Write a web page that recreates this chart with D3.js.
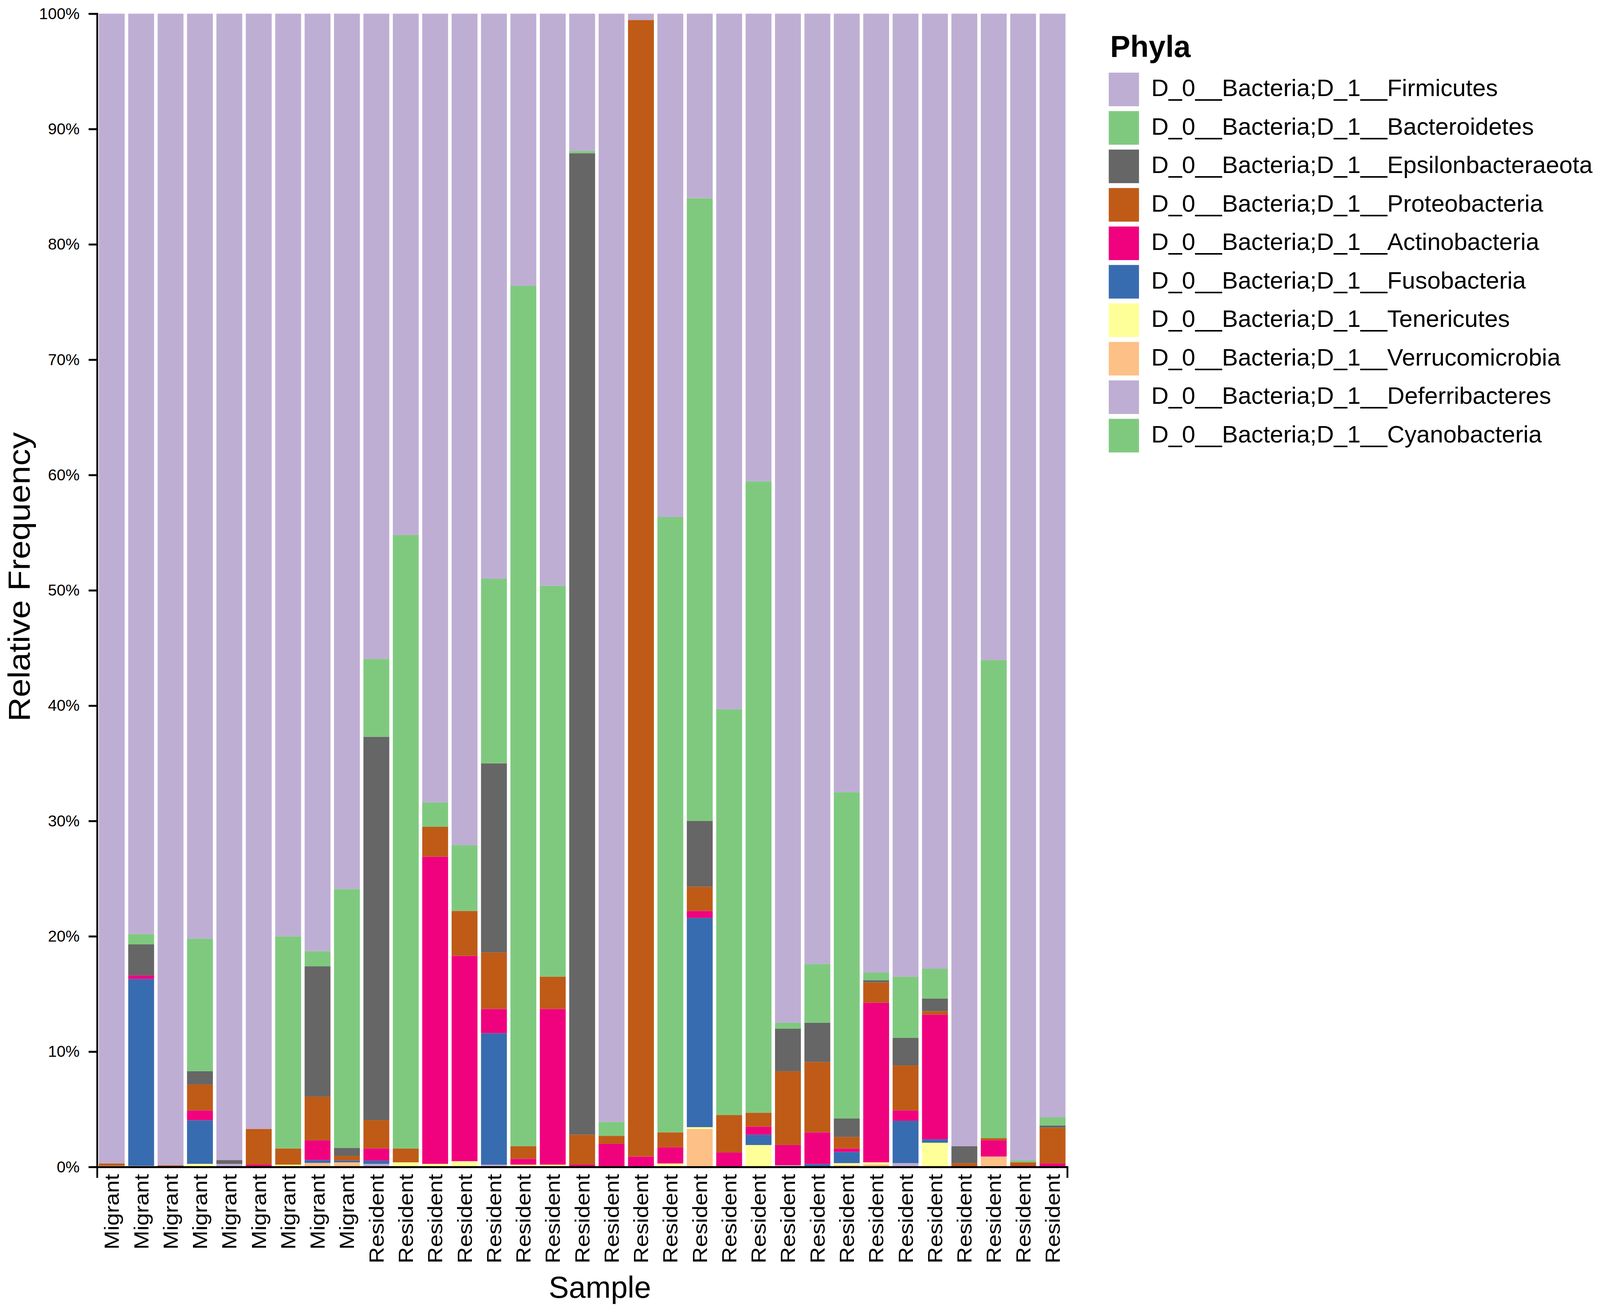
<!DOCTYPE html>
<html>
<head>
<meta charset="utf-8">
<script src="https://cdn.jsdelivr.net/npm/d3@7"></script>
<style>
  html, body { margin: 0; padding: 0; background: #fff; overflow: hidden; }
  #chart svg { display: block; width: 100vw; height: 100vh; }
  text { font-family: "Liberation Sans", Arial, Helvetica, sans-serif; }
</style>
</head>
<body>
<div id="chart"></div>
<script>
const W = 4550, H = 3362;

// sample groups, left to right
const samples = ["Migrant","Migrant","Migrant","Migrant","Migrant","Migrant","Migrant","Migrant","Migrant",
  "Resident","Resident","Resident","Resident","Resident","Resident","Resident","Resident","Resident",
  "Resident","Resident","Resident","Resident","Resident","Resident","Resident","Resident","Resident",
  "Resident","Resident","Resident","Resident","Resident","Resident"];

// phyla, legend order (top of the stack first)
const phyla = ["D_0__Bacteria;D_1__Firmicutes","D_0__Bacteria;D_1__Bacteroidetes",
  "D_0__Bacteria;D_1__Epsilonbacteraeota","D_0__Bacteria;D_1__Proteobacteria",
  "D_0__Bacteria;D_1__Actinobacteria","D_0__Bacteria;D_1__Fusobacteria",
  "D_0__Bacteria;D_1__Tenericutes","D_0__Bacteria;D_1__Verrucomicrobia",
  "D_0__Bacteria;D_1__Deferribacteres","D_0__Bacteria;D_1__Cyanobacteria"];
const phylaColors = ["#beaed4","#7fc97f","#666666","#bf5b17","#f0027f","#386cb0","#ffff99","#fdc086","#beaed4","#7fc97f"];

// relative frequency (%) per sample
const firmicutes = [99.7,79.8,99.85,80.2,99.4,96.7,80.0,81.3,75.9,55.95,45.2,68.4,72.1,49.0,23.6,49.6,11.9,96.1,0.55,43.65,16.0,60.3,40.55,87.5,82.4,67.5,83.14,83.5,82.8,98.2,56.05,99.42,95.7];
const bacteroidetes = [0,0.9,0,11.5,0,0,18.4,1.3,22.45,6.75,53.2,2.1,5.7,16.0,74.6,33.9,0.2,1.2,0,53.35,54.0,35.2,54.75,0.5,5.1,28.3,0.66,5.3,2.6,0,41.45,0.18,0.7];
const epsilonbacteraeota = [0,2.7,0,1.15,0.33,0,0,11.3,0.7,33.24,0,0,0,16.4,0,0,85.1,0,0,0,5.7,0,0,3.7,3.4,1.6,0.2,2.4,1.1,1.47,0,0,0.2];
const proteobacteria = [0.2,0,0.15,2.25,0,3.1,1.4,3.8,0.4,2.46,1.2,2.6,3.9,4.9,1.1,2.8,2.6,0.7,98.55,1.3,2.1,3.25,1.2,6.4,6.1,1.0,1.77,3.9,0.3,0.33,0.2,0.3,3.1];
const actinobacteria = [0,0.3,0,0.85,0,0.2,0,1.7,0,1.05,0,26.63,17.8,2.1,0.5,13.5,0.2,2.0,0.9,1.4,0.6,1.25,0.7,1.75,2.75,0.3,13.83,0.9,10.8,0,1.4,0.1,0.3];
const fusobacteria = [0,16.2,0,3.78,0,0,0,0.25,0.15,0.28,0,0,0,11.4,0,0,0,0,0,0,18.15,0,0.9,0,0.25,0.97,0,3.67,0.3,0,0,0,0];
const tenericutes = [0,0,0,0.27,0,0,0.2,0,0,0,0.4,0.27,0.5,0,0.2,0.2,0,0,0,0.3,0.15,0,1.9,0,0,0.18,0.2,0,2.1,0,0,0,0];
const verrucomicrobia = [0.1,0,0,0,0,0,0,0.35,0.4,0,0,0,0,0,0,0,0,0,0,0,3.3,0,0,0,0,0.15,0.2,0,0,0,0.9,0,0];
const deferribacteres = [0,0.1,0,0,0.27,0,0,0,0,0.27,0,0,0,0.2,0,0,0,0,0,0,0,0,0,0.15,0,0,0,0.33,0,0,0,0,0];
const cyanobacteria = [0,0,0,0,0,0,0,0,0,0,0,0,0,0,0,0,0,0,0,0,0,0,0,0,0,0,0,0,0,0,0,0,0];

const yTicks = [0,10,20,30,40,50,60,70,80,90,100];

const seriesValues = [firmicutes, bacteroidetes, epsilonbacteraeota, proteobacteria, actinobacteria,
  fusobacteria, tenericutes, verrucomicrobia, deferribacteres, cyanobacteria];

// table for d3.stack
const rows = samples.map(function(s, i) {
  const r = { idx: i, sample: s };
  phyla.forEach(function(p, k) { r[p] = seriesValues[k][i]; });
  return r;
});

const margin = { left: 276, right: 1515, top: 35, bottom: 374 };
const plotW = W - margin.left - margin.right;
const plotH = H - margin.top - margin.bottom;

// viewBox stretched to the viewport, so the layout fills the page
const svg = d3.select("#chart").append("svg")
  .attr("viewBox", "0 0 " + W + " " + H)
  .attr("preserveAspectRatio", "none")
  .style("background", "#fff");

const g = svg.append("g").attr("transform", "translate(" + margin.left + "," + margin.top + ")");

const x = d3.scaleBand()
  .domain(d3.range(samples.length))
  .range([0, plotW])
  .paddingInner(0.12)
  .paddingOuter(0.06);

const y = d3.scaleLinear().domain([0, 100]).range([plotH, 0]);

const color = d3.scaleOrdinal().domain(phyla).range(phylaColors);

// stack bottom -> top is reverse legend order
const stack = d3.stack().keys(phyla.slice().reverse());
const layers = stack(rows);

g.selectAll("g.layer")
  .data(layers)
  .enter().append("g")
  .attr("class", "layer")
  .attr("fill", function(d) { return color(d.key); })
  .selectAll("rect")
  .data(function(d) { return d; })
  .enter().append("rect")
  .attr("x", function(d) { return x(d.data.idx); })
  .attr("width", x.bandwidth())
  .attr("y", function(d) { return y(d[1]); })
  .attr("height", function(d) { return Math.max(0, y(d[0]) - y(d[1])); });

// y axis
const yAxis = g.append("g")
  .call(d3.axisLeft(y).tickValues(yTicks).tickFormat(function(d) { return d + "%"; })
    .tickSize(24).tickSizeOuter(24));
yAxis.selectAll("path, line").attr("stroke", "#000").attr("stroke-width", 5);
yAxis.selectAll("text")
  .attr("x", -45)
  .attr("transform", "scale(1.1,1)")
  .style("font-size", "41px")
  .attr("fill", "#000");

// x axis
const xAxis = g.append("g")
  .attr("transform", "translate(0," + plotH + ")")
  .call(d3.axisBottom(x).tickFormat(function(i) { return samples[i]; })
    .tickSizeInner(0).tickSizeOuter(28));
xAxis.selectAll("path").attr("stroke", "#000").attr("stroke-width", 5);
xAxis.selectAll("line").remove();
xAxis.selectAll("text")
  .attr("transform", "rotate(-90)")
  .attr("x", -18)
  .attr("y", 0)
  .attr("dy", "0.35em")
  .attr("text-anchor", "end")
  .style("font-size", "58px")
  .attr("fill", "#000");

// axis titles
svg.append("text")
  .attr("transform", "translate(84,1477) rotate(-90)")
  .attr("text-anchor", "middle")
  .style("font-size", "86px")
  .text("Relative Frequency");

svg.append("text")
  .attr("transform", "translate(1706,3323) scale(1.1,1)")
  .attr("text-anchor", "middle")
  .style("font-size", "78px")
  .text("Sample");

// legend
const legend = svg.append("g").attr("transform", "translate(3153,186)");
svg.append("text")
  .attr("transform", "translate(3157,146) scale(1.1,1)")
  .style("font-size", "78px")
  .style("font-weight", "bold")
  .text("Phyla");

const item = legend.selectAll("g.item")
  .data(phyla)
  .enter().append("g")
  .attr("class", "item")
  .attr("transform", function(d, i) { return "translate(0," + (i * 98.5) + ")"; });
item.append("rect")
  .attr("width", 86).attr("height", 86)
  .attr("fill", function(d) { return color(d); });
item.append("text")
  .attr("transform", "translate(121,60) scale(1.1,1)")
  .style("font-size", "62px")
  .text(function(d) { return d; });
</script>
</body>
</html>
